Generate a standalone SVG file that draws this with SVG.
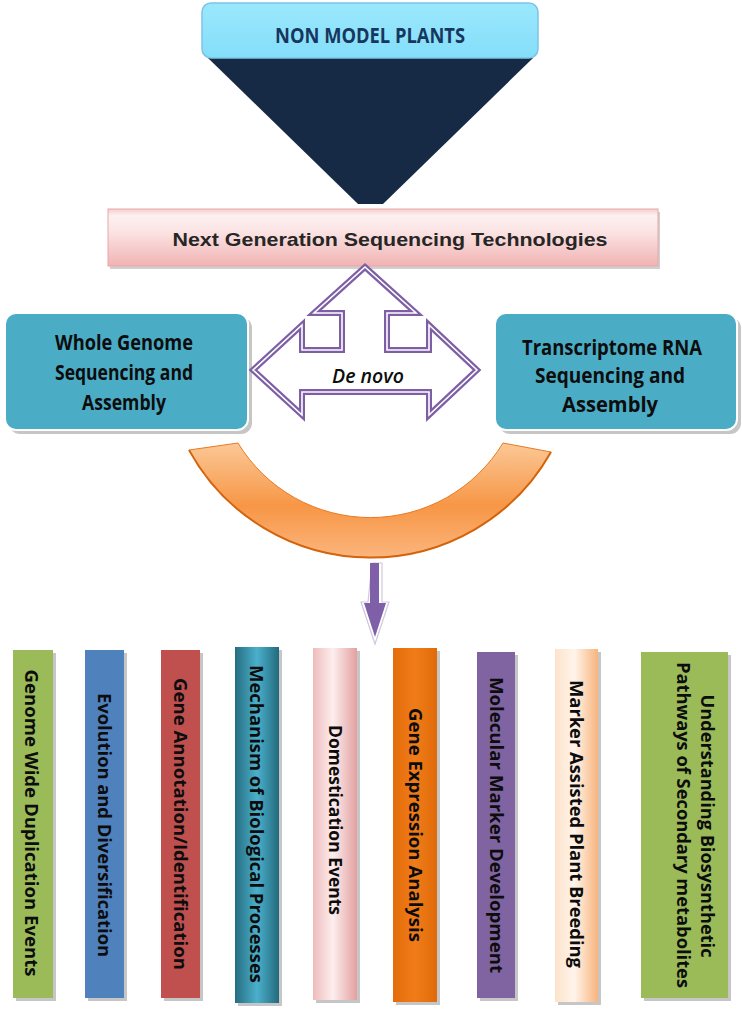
<svg xmlns="http://www.w3.org/2000/svg" width="742" height="1010" viewBox="0 0 742 1010">
<defs>
<linearGradient id="gTop" x1="0" y1="0" x2="0" y2="1"><stop offset="0" stop-color="#9be8fd"/><stop offset="1" stop-color="#84def9"/></linearGradient>
<linearGradient id="gNgs" x1="0" y1="0" x2="0" y2="1"><stop offset="0" stop-color="#f6cdcd"/><stop offset="0.12" stop-color="#fdf1f1"/><stop offset="0.4" stop-color="#fbe3e3"/><stop offset="1" stop-color="#f1b3b3"/></linearGradient>
<linearGradient id="gArc" x1="0" y1="0" x2="0" y2="1"><stop offset="0" stop-color="#fbc896"/><stop offset="0.55" stop-color="#f79646"/><stop offset="1" stop-color="#fbb57d"/></linearGradient>
<linearGradient id="gTeal" x1="0" y1="0" x2="1" y2="0"><stop offset="0" stop-color="#256d80"/><stop offset="0.5" stop-color="#4bb0cc"/><stop offset="1" stop-color="#236a7c"/></linearGradient>
<linearGradient id="gPink" x1="0" y1="0" x2="1" y2="0"><stop offset="0" stop-color="#efbcbc"/><stop offset="0.45" stop-color="#fdeeee"/><stop offset="1" stop-color="#e3a0a0"/></linearGradient>
<linearGradient id="gOrange" x1="0" y1="0" x2="1" y2="0"><stop offset="0" stop-color="#e46c0a"/><stop offset="0.5" stop-color="#f07c18"/><stop offset="1" stop-color="#e06a0a"/></linearGradient>
<linearGradient id="gPeach" x1="0" y1="0" x2="1" y2="0"><stop offset="0" stop-color="#fde3cc"/><stop offset="0.45" stop-color="#fff4ea"/><stop offset="1" stop-color="#f8b47c"/></linearGradient>
</defs>
<style>
.blue{fill:#4bacc6;stroke:#ffffff;stroke-width:2}
.shadow{fill:#c6c6c6}
.bt{font-family:"Open Sans",Lato,sans-serif;font-weight:700;font-size:22px;fill:#0d0d0d;text-anchor:middle}
.ct{font-family:"Open Sans",Lato,sans-serif;font-weight:700;font-size:18px;fill:#0d0d0d;text-anchor:middle}
.ol{fill:#ffffff;stroke:#7e5fa6;stroke-width:6;stroke-linejoin:miter}
.il{fill:none;stroke:#ffffff;stroke-width:1.6;stroke-linejoin:miter}
</style>

<g id="non-model-plants">
<polygon points="208,58 533,58 383,204 358,204" fill="#172a45"/>
<rect x="202" y="3" width="336" height="55" rx="9" fill="url(#gTop)" stroke="#7cc3e6" stroke-width="1.5"/>
<text x="370" y="43" font-family="'Open Sans',Lato,sans-serif" font-weight="700" font-size="22" fill="#17375e" text-anchor="middle" textLength="190" lengthAdjust="spacingAndGlyphs">NON MODEL PLANTS</text>
</g>

<g id="ngs">
<rect x="110" y="212" width="550" height="57" fill="#d0d0d0"/>
<rect x="108" y="209" width="550" height="57" fill="url(#gNgs)" stroke="#e8a8a8" stroke-width="1"/>
<text x="390" y="246" font-family="'Liberation Sans',Arial,sans-serif" font-weight="bold" font-size="18.5" fill="#262626" text-anchor="middle" textLength="435" lengthAdjust="spacingAndGlyphs">Next Generation Sequencing Technologies</text>
</g>

<g id="whole-genome">
<rect class="shadow" x="9" y="317" width="243" height="117" rx="11"/>
<rect class="blue" x="5" y="313" width="243" height="117" rx="11"/>
<text class="bt" x="124" y="350" textLength="138" lengthAdjust="spacingAndGlyphs">Whole Genome</text>
<text class="bt" x="124" y="380" textLength="138" lengthAdjust="spacingAndGlyphs">Sequencing and</text>
<text class="bt" x="124" y="410" textLength="84" lengthAdjust="spacingAndGlyphs">Assembly</text>
</g>

<g id="transcriptome">
<rect class="shadow" x="499" y="317" width="242" height="117" rx="11"/>
<rect class="blue" x="495" y="313" width="242" height="117" rx="11"/>
<text class="bt" x="612" y="355" textLength="180" lengthAdjust="spacingAndGlyphs">Transcriptome RNA</text>
<text class="bt" x="610" y="383" textLength="150" lengthAdjust="spacingAndGlyphs">Sequencing and</text>
<text class="bt" x="610" y="412" textLength="96" lengthAdjust="spacingAndGlyphs">Assembly</text>
</g>

<g id="connectors">
<g id="de-novo-arrow">
<polygon class="ol" points="365,267 416,313 387,313 387,350 429,350 429,325 477,370 429,415 429,392 302,392 302,415 253,370 302,325 302,350 342,350 342,313 314,313"/>
<polygon class="il" points="365,267 416,313 387,313 387,350 429,350 429,325 477,370 429,415 429,392 302,392 302,415 253,370 302,325 302,350 342,350 342,313 314,313"/>
<text x="368" y="383" font-family="'Open Sans',Lato,sans-serif" font-style="italic" font-weight="600" font-size="19" fill="#0d0d0d" text-anchor="middle" textLength="72" lengthAdjust="spacingAndGlyphs">De novo</text>
</g>
<path id="merge-arc" d="M189,450 A207,207 0 0 0 551,452 L503,443 A155,155 0 0 1 238,443 Z" fill="url(#gArc)" stroke="#e87a22" stroke-width="1"/>
<path d="M189,450 A207,207 0 0 0 551,452" fill="none" stroke="#d4640c" stroke-width="2"/>
<g id="down-arrow">
<polygon points="372,563 382,563 382,602 389,602 375,644 361,602 368,602" fill="none" stroke="#cfc8dc" stroke-width="1.2"/>
<rect x="370" y="563" width="9" height="42" fill="#7f5fa8"/>
<polygon points="364,603 386,603 375,637" fill="#7f5fa8"/>
</g>
</g>

<g id="col-genome-wide">
<rect class="shadow" x="16" y="653" width="40" height="348"/>
<rect x="13" y="650" width="40" height="348" fill="#9bbb59"/>
<text class="ct" transform="translate(31,823) rotate(90)" x="0" y="6" textLength="307" lengthAdjust="spacingAndGlyphs">Genome Wide Duplication Events</text>
</g>
<g id="col-evolution">
<rect class="shadow" x="88" y="653" width="39" height="348"/>
<rect x="85" y="650" width="39" height="348" fill="#4f81bd"/>
<text class="ct" transform="translate(104,825) rotate(90)" x="0" y="6" textLength="264" lengthAdjust="spacingAndGlyphs">Evolution and Diversification</text>
</g>
<g id="col-annotation">
<rect class="shadow" x="164" y="653" width="39" height="348"/>
<rect x="161" y="650" width="39" height="348" fill="#c0504d"/>
<text class="ct" transform="translate(180,824) rotate(90)" x="0" y="6" textLength="292" lengthAdjust="spacingAndGlyphs">Gene Annotation/Identification</text>
</g>
<g id="col-mechanism">
<rect class="shadow" x="238" y="650" width="44" height="356"/>
<rect x="235" y="647" width="44" height="356" fill="url(#gTeal)"/>
<text class="ct" transform="translate(256,824) rotate(90)" x="0" y="6" textLength="318" lengthAdjust="spacingAndGlyphs">Mechanism of Biological Processes</text>
</g>
<g id="col-domestication">
<rect class="shadow" x="316" y="651" width="44" height="352"/>
<rect x="313" y="648" width="44" height="352" fill="url(#gPink)"/>
<text class="ct" transform="translate(335,820) rotate(90)" x="0" y="6" textLength="190" lengthAdjust="spacingAndGlyphs">Domestication Events</text>
</g>
<g id="col-expression">
<rect class="shadow" x="396" y="651" width="44" height="354"/>
<rect x="393" y="648" width="44" height="354" fill="url(#gOrange)"/>
<text class="ct" transform="translate(415,825) rotate(90)" x="0" y="6" textLength="234" lengthAdjust="spacingAndGlyphs">Gene Expression Analysis</text>
</g>
<g id="col-molecular-marker">
<rect class="shadow" x="480" y="655" width="38" height="346"/>
<rect x="477" y="652" width="38" height="346" fill="#8064a2"/>
<text class="ct" transform="translate(496,825) rotate(90)" x="0" y="6" textLength="296" lengthAdjust="spacingAndGlyphs">Molecular Marker Development</text>
</g>
<g id="col-mas">
<rect class="shadow" x="558" y="652" width="43" height="353"/>
<rect x="555" y="649" width="43" height="353" fill="url(#gPeach)"/>
<text class="ct" transform="translate(576,824) rotate(90)" x="0" y="6" textLength="288" lengthAdjust="spacingAndGlyphs">Marker Assisted Plant Breeding</text>
</g>
<g id="col-biosynthetic">
<rect class="shadow" x="644" y="655" width="87" height="346"/>
<rect x="641" y="652" width="87" height="346" fill="#9bbb59"/>
<text class="ct" transform="translate(707,826) rotate(90)" x="0" y="6" textLength="263" lengthAdjust="spacingAndGlyphs">Understanding Biosysnthetic</text>
<text class="ct" transform="translate(683,825) rotate(90)" x="0" y="6" textLength="326" lengthAdjust="spacingAndGlyphs">Pathways of Secondary metabolites</text>
</g>
</svg>
